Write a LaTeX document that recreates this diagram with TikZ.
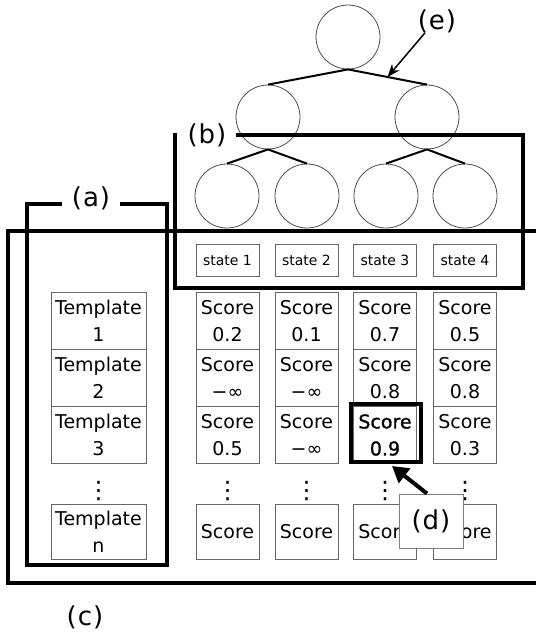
\documentclass[tikz,border=0pt]{standalone}
\usepackage{fontspec}
\setmainfont{DejaVu Sans}
\newfontfamily\semibold[FakeBold=1.2]{DejaVu Sans}
\usetikzlibrary{arrows.meta}
\begin{document}
\begin{tikzpicture}[x=1pt,y=-1pt,
  cell/.style={draw=black!60, line width=0.9pt, minimum width=63pt, minimum height=57pt,
    inner sep=0pt, outer sep=0pt, align=center, font=\fontsize{19}{27}\selectfont},
  tcell/.style={cell, minimum width=95pt},
  statebox/.style={draw=black!60, line width=0.9pt, minimum width=63pt, minimum height=32pt,
    inner sep=0pt, font=\fontsize{14}{16}\selectfont},
  tnode/.style={draw=black!70, line width=0.8pt, circle, minimum size=64pt, inner sep=0pt},
  edge/.style={line width=2pt},
  frame/.style={line width=4pt},
  lab/.style={font=\fontsize{26}{28}\selectfont, inner sep=0pt},
  vdots/.style={font=\fontsize{24}{26}\selectfont, inner sep=0pt}
]
\useasboundingbox (0,0) rectangle (536,635);

% tree
\node[tnode] (root) at (348,37) {};
\node[tnode] (l) at (268,117) {};
\node[tnode] (r) at (427,117) {};
\node[tnode] (ll) at (227,196) {};
\node[tnode] (lr) at (307,196) {};
\node[tnode] (rl) at (386,196) {};
\node[tnode] (rr) at (465,196) {};
\draw[edge] (root.south) -- (l.north);
\draw[edge] (root.south) -- coordinate[pos=0.5] (emid) (r.north);
\draw[edge] (l.south) -- (ll.north);
\draw[edge] (l.south) -- (lr.north);
\draw[edge] (r.south) -- (rl.north);
\draw[edge] (r.south) -- (rr.north);

% label (e)
\node[lab] (elab) at (437,21) {(\kern1pt e\kern1pt)};
\draw[line width=1.5pt, -{Stealth[length=13pt,width=10pt]}] ([xshift=-12pt]elab.south) -- (emid);

% frame (b)
\node[lab] (blab) at (207,135) {(\kern1pt b\kern1pt)};
\draw[line width=3.5pt] (236,135) -- (523,135) -- (523,288) -- (175,288) -- (175,133);

% frame (c)
\draw[frame] (536,231) -- (8,231) -- (8,583) -- (536,583);
\node[lab] (clab) at (85,617) {(\kern1pt c\kern1pt)};

% frame (a)
\node[lab] (alab) at (91,198) {(\kern1pt a\kern1pt)};
\draw[frame] (62,204) -- (27,204) -- (27,565) -- (167,565) -- (167,204) -- (120,204);

% states
\node[statebox] (s1) at (227.5,260) {state 1};
\node[statebox] (s2) at (306.5,260) {state 2};
\node[statebox] (s3) at (385,260) {state 3};
\node[statebox] (s4) at (465,260) {state 4};

% templates
\node[tcell] (t1) at (98.5,321) {Template\\1};
\node[tcell] (t2) at (98.5,378) {Template\\2};
\node[tcell] (t3) at (98.5,435) {Template\\3};
\node[vdots] (tdots) at (98.5,491) {⋮};
\node[tcell, minimum height=55pt] (tn) at (98.5,531.5) {Template\\n};

% scores column 1
\node[cell] (a1) at (227.5,321) {Score\\0.2};
\node[cell] (a2) at (227.5,378) {Score\\−∞};
\node[cell] (a3) at (227.5,435) {Score\\0.5};
\node[vdots] (adots) at (227.5,491) {⋮};
\node[cell, minimum height=55pt] (an) at (227.5,531.5) {Score};
% column 2
\node[cell] (b1) at (306.5,321) {Score\\0.1};
\node[cell] (b2) at (306.5,378) {Score\\−∞};
\node[cell] (b3) at (306.5,435) {Score\\−∞};
\node[vdots] (bdots) at (306.5,491) {⋮};
\node[cell, minimum height=55pt] (bn) at (306.5,531.5) {Score};
% column 3
\node[cell] (c1) at (385,321) {Score\\0.7};
\node[cell] (c2) at (385,378) {Score\\0.8};
\node[cell] (c3) at (385,435) {\semibold Score\\\semibold 0.9};
\node[vdots] (cdots) at (385,491) {⋮};
\node[cell, minimum height=55pt] (cn) at (385,531.5) {Score};
% column 4
\node[cell] (d1) at (465,321) {Score\\0.5};
\node[cell] (d2) at (465,378) {Score\\0.8};
\node[cell] (d3) at (465,435) {Score\\0.3};
\node[vdots] (ddots) at (465,491) {⋮};
\node[cell, minimum height=55pt] (dn) at (465,531.5) {Score};

% highlight
\node[draw, line width=3.5pt, minimum width=70pt, minimum height=58pt, inner sep=0pt] (hl) at (386,433) {};

% label (d)
\node[draw=black!50, line width=0.9pt, fill=white, minimum width=64pt, minimum height=54pt, inner sep=0pt,
  font=\fontsize{26}{28}\selectfont] (dlab) at (431,521) {(\kern1pt d\kern1pt)};
\coordinate (dtip) at (392,466);
\draw[line width=4pt, -{Triangle[length=16pt,width=18pt]}] ([xshift=-4pt]dlab.north) -- (dtip);
\end{tikzpicture}
\end{document}
